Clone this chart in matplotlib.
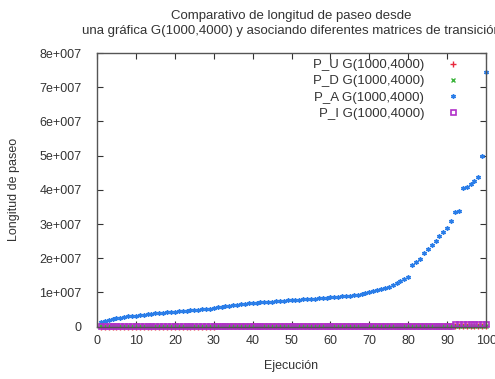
import numpy as np
import matplotlib
matplotlib.use("Agg")
import matplotlib.pyplot as plt
from matplotlib.ticker import FuncFormatter

plt.rcParams["font.family"] = ["Liberation Sans", "DejaVu Sans"]

# Ejecuciones 1..100 (valores ordenados de menor a mayor)
ejecucion = np.arange(1, 101)

# Longitud de paseo con la matriz P_A (en millones)
p_a_mill = [
    1.5, 1.8, 2.0, 2.2, 2.4, 2.6, 2.8, 3.0, 3.1, 3.2,
    3.4, 3.5, 3.6, 3.8, 3.9, 4.0, 4.1, 4.2, 4.3, 4.4,
    4.5, 4.6, 4.7, 4.8, 4.9, 5.0, 5.1, 5.2, 5.3, 5.5,
    5.7, 5.9, 6.0, 6.1, 6.2, 6.4, 6.6, 6.7, 6.8, 6.9,
    7.0, 7.1, 7.2, 7.3, 7.35, 7.4, 7.5, 7.6, 7.7, 7.8,
    7.85, 7.9, 8.0, 8.1, 8.15, 8.2, 8.3, 8.4, 8.5, 8.6,
    8.7, 8.8, 8.9, 9.0, 9.1, 9.2, 9.4, 9.6, 9.8, 10.0,
    10.3, 10.6, 10.9, 11.2, 11.6, 12.2, 12.8, 13.4, 14.0, 14.6,
    18.0, 19.0, 19.8, 21.4, 22.6, 23.9, 25.2, 26.5, 27.8, 29.0,
    31.0, 33.5, 33.8, 40.5, 40.7, 41.6, 42.6, 43.9, 50.0, 74.5,
]

# Matrices P_U, P_D y P_I: longitudes muy pequeñas (en millones)
p_u_mill = [0.05] * 30 + [0.08] * 40 + [0.12] * 22 + [0.2] * 8
p_d_mill = [0.06] * 35 + [0.1] * 45 + [0.15] * 12 + [0.25] * 8
p_i_mill = [0.1] * 35 + [0.3] * 56 + [0.8] * 9

y_ticks = [0, 1e7, 2e7, 3e7, 4e7, 5e7, 6e7, 7e7, 8e7]
x_ticks = list(range(0, 101, 10))

p_a = np.array(p_a_mill) * 1e6
p_u = np.array(p_u_mill) * 1e6
p_d = np.array(p_d_mill) * 1e6
p_i = np.array(p_i_mill) * 1e6

fig = plt.figure(figsize=(4.95, 3.79), dpi=100)
ax = fig.add_axes([0.196, 0.138, 0.786, 0.722])

fs_tick = 9
fs_text = 9.5
txt_col = "#333333"

ax.plot(ejecucion, p_u, linestyle="none", marker="+", color="#e8283c",
        markersize=4, markeredgewidth=1.0, clip_on=False, label="P_U G(1000,4000)")
ax.plot(ejecucion, p_d, linestyle="none", marker="x", color="#3cb43c",
        markersize=3.5, markeredgewidth=1.0, clip_on=False, label="P_D G(1000,4000)")
ax.plot(ejecucion, p_a, linestyle="none", marker=(6, 2, 0), color="#2a7de8",
        markersize=3.2, markeredgewidth=1.0, clip_on=False, label="P_A G(1000,4000)")
ax.plot(ejecucion, p_i, linestyle="none", marker="s", markerfacecolor="none",
        markeredgecolor="#b030c8", markersize=3.6, markeredgewidth=1.2,
        clip_on=False, label="P_I G(1000,4000)")

ax.set_xlim(0, 100)
ax.set_ylim(0, 8e7)
ax.set_xticks(x_ticks)
ax.set_yticks(y_ticks)

def sci_fmt(v, pos):
    if v == 0:
        return "0"
    exp = int(np.floor(np.log10(abs(v))))
    mant = v / 10 ** exp
    return f"{mant:g}e+{exp:03d}"

ax.yaxis.set_major_formatter(FuncFormatter(sci_fmt))
ax.tick_params(direction="in", length=4, width=0.8, top=True, right=True,
               labelsize=fs_tick, colors=txt_col)
ax.tick_params(axis="x", pad=6)
ax.tick_params(axis="y", pad=11)
for s in ax.spines.values():
    s.set_color("#555555")
    s.set_linewidth(1.0)

ax.set_xlabel("Ejecución", fontsize=fs_tick, color=txt_col, labelpad=9)
ax.set_ylabel("Longitud de paseo", fontsize=fs_tick, color=txt_col, labelpad=14)
ax.set_title("Comparativo de longitud de paseo desde\n"
             "una gráfica G(1000,4000) y asociando diferentes matrices de transición",
             fontsize=fs_text, color=txt_col, pad=14, linespacing=1.3)

leg = ax.legend(loc="upper right", frameon=False, markerfirst=False,
                fontsize=fs_text, handlelength=1.2, handletextpad=1.6,
                labelspacing=0.3, borderaxespad=0.3, bbox_to_anchor=(0.96, 1.012))
for t in leg.get_texts():
    t.set_color(txt_col)

fig.savefig("out.png", dpi=100)
